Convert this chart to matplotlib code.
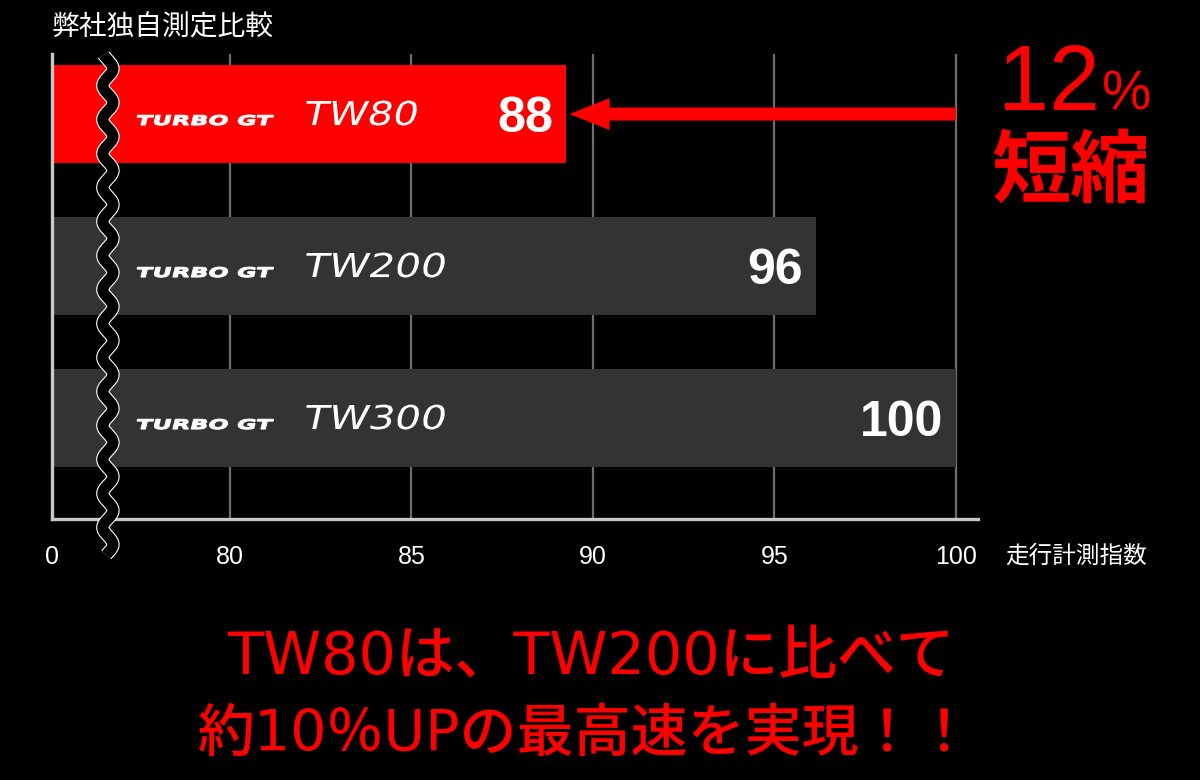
import numpy as np
import matplotlib
matplotlib.use("Agg")
import matplotlib.pyplot as plt
from matplotlib.textpath import TextPath
from matplotlib.patches import PathPatch
from matplotlib.font_manager import FontProperties
from matplotlib.transforms import Affine2D, ScaledTranslation, blended_transform_factory

plt.rcParams['font.family'] = ['Noto Sans CJK JP', 'DejaVu Sans']

# data
models = ['TW80', 'TW200', 'TW300']
scores = [88, 96, 100]              # printed values
bar_ends = [89.26, 96.14, 100.0]    # where the bars actually end on the scale
bar_colors = ['#ff0000', '#333333', '#333333']
ticks = [80, 85, 90, 95, 100]
brand = 'TURBO GT'
title = '弊社独自測定比較'
xlabel = '走行計測指数'
gain = '12'
gain_word = '短縮'
note_lines = ['TW80は、TW200に比べて', '約10％UPの最高速を実現！！']

x_break = 75.10     # where the cut axis starts ("0")
x_max = 100.61

fig = plt.figure(figsize=(12, 7.8), dpi=100, facecolor='black')
ax = fig.add_axes([52 / 1200, 261 / 780, 926 / 1200, 465 / 780])
ax.set_facecolor('black')
ax.set_xlim(x_break, x_max)
ax.set_ylim(2.664, -0.395)

# grid lines first, bars on top
for t in ticks:
    ax.axvline(t, color='#6e6e6e', lw=1.6, zorder=1)

ypos = np.arange(len(models))
ax.barh(ypos, np.array(bar_ends) - x_break, left=x_break, height=0.64,
        color=bar_colors, zorder=2)

for s in ['top', 'right']:
    ax.spines[s].set_visible(False)
for s in ['left', 'bottom']:
    ax.spines[s].set_color('#c8c8c8')
    ax.spines[s].set_linewidth(2.4)
    ax.spines[s].set_zorder(3)

ax.set_yticks([])
ax.set_xticks([x_break] + ticks)
ax.set_xticklabels(['0'] + [str(t) for t in ticks], family='Liberation Sans',
                   fontsize=18, color='white')
ax.tick_params(axis='x', length=0, pad=19)

ax.text(0, 1.056, title, transform=ax.transAxes, color='white', fontsize=20,
        ha='left', va='center')
ax.text(1.029, -0.08, xlabel, transform=ax.transAxes, color='white',
        fontsize=17, ha='left', va='center')

# stretched italic lettering for the tyre names
def wide_text(s, x, y, size, width, skew, weight, stroke=0, dy=-11):
    prop = FontProperties(family='DejaVu Sans', weight=weight)
    path = TextPath((0, 0), s, size=size, prop=prop)
    ext = path.get_extents()
    sx = width / ext.width
    tr = (Affine2D().translate(-ext.x0, 0).scale(sx, 1).skew_deg(skew, 0)
          .translate(0, dy)
          + ScaledTranslation(x, y, ax.transData))
    ax.add_patch(PathPatch(path, transform=tr, facecolor='white',
                           edgecolor='white', lw=stroke,
                           zorder=4, clip_on=False))

for i, m in enumerate(models):
    wide_text(brand, 77.39, i, 13.5, 136, 14, 'bold', stroke=0.7)
    wide_text(m, 81.98, i, 33, 28 * len(m), 12, 'normal')
    ax.text(bar_ends[i] - 0.36, i, str(scores[i]), family='Liberation Sans',
            weight='bold', fontsize=36, color='white', ha='right',
            va='center_baseline', zorder=4)

# arrow from 100 back to the TW80 bar
ax.arrow(100, 0, bar_ends[0] + 0.1 - 100, 0, width=0.086, head_width=0.21,
         head_length=1.1, length_includes_head=True, color='#ff0000', lw=0,
         zorder=4, clip_on=False)

# wavy axis break
bt = blended_transform_factory(ax.transData, ax.transAxes)
yy = np.linspace(-0.077, 0.998, 600)
xx = 76.64 + 0.14 * np.sin(2 * np.pi * yy / 0.0731)
ax.plot(xx, yy, color='white', lw=9.6, transform=bt, clip_on=False,
        zorder=5, solid_capstyle='butt')
ax.plot(xx, yy, color='black', lw=8.0, transform=bt, clip_on=False,
        zorder=6, solid_capstyle='butt')

# headline on the right
fig.text(998 / 1200, 1 - 110 / 780, gain, color='#ff0000', fontsize=66,
         family='Liberation Sans', ha='left', va='baseline')
fig.text(1102 / 1200, 1 - 110 / 780, '%', color='#ff0000', fontsize=40,
         family='Liberation Sans', ha='left', va='baseline')
fig.text(1071 / 1200, 1 - 172 / 780, gain_word, color='#ff0000', fontsize=57,
         weight='bold', ha='center', va='center')

for k, (line, cx, fs) in enumerate(zip(note_lines, [591, 586], [42.3, 41])):
    fig.text(cx / 1200, 1 - (657 + 78 * k) / 780, line, color='#ff0000',
             fontsize=fs, weight='medium', ha='center', va='center',
             family=['DejaVu Sans', 'Noto Sans CJK JP'])

fig.savefig('out.png', dpi=100, facecolor='black')
